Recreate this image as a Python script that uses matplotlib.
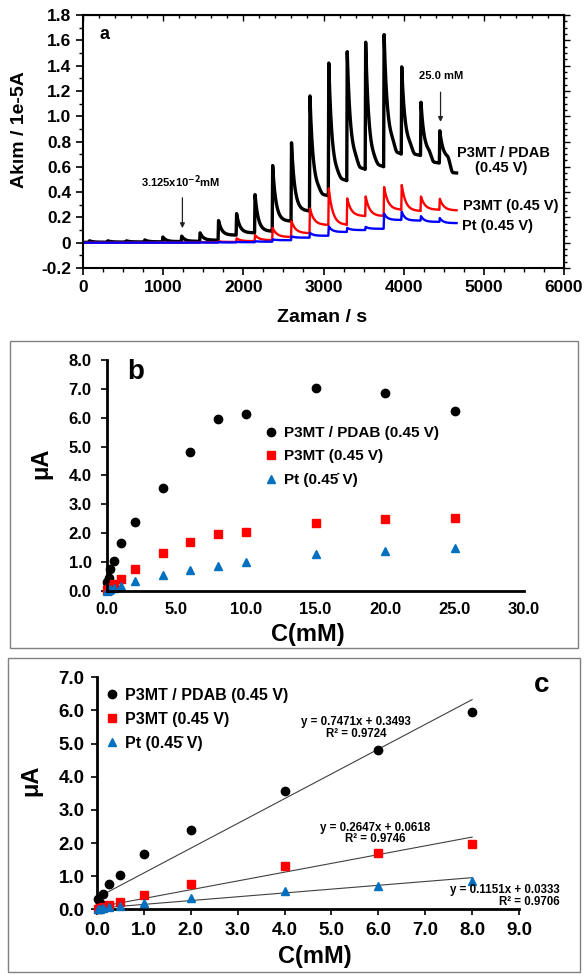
import numpy as np
import matplotlib
matplotlib.use("Agg")
import matplotlib.pyplot as plt
from matplotlib.patches import Rectangle
from matplotlib.ticker import MultipleLocator, FuncFormatter, FormatStrFormatter

plt.rcParams['font.family'] = ['Liberation Sans', 'DejaVu Sans']
plt.rcParams['font.weight'] = 'bold'
plt.rcParams['axes.labelweight'] = 'bold'

# ---------------- amperometric response (panel a) ----------------
add_times = [75, 305, 535, 765, 990, 1225, 1455, 1685, 1910, 2140,
             2360, 2595, 2825, 3060, 3290, 3520, 3750, 3970, 4210, 4445]
t_end = 4660

pdab_peak = [0.015, 0.015, 0.015, 0.022, 0.045, 0.052, 0.078, 0.175, 0.23, 0.38,
             0.61, 0.79, 1.16, 1.42, 1.51, 1.585, 1.645, 1.39, 1.11, 0.885]
pdab_shoulder = [0.004, 0.005, 0.006, 0.007, 0.009, 0.011, 0.02, 0.06, 0.078, 0.09,
                 0.17, 0.25, 0.40, 0.52, 0.64, 0.63, 0.77, 0.75, 0.70, 0.665]
pdab_level = [0.004, 0.005, 0.006, 0.007, 0.009, 0.011, 0.02, 0.06, 0.078, 0.09,
              0.17, 0.25, 0.37, 0.49, 0.58, 0.60, 0.70, 0.69, 0.63, 0.55]

p3mt_peak = [0, 0, 0, 0, 0, 0, 0.005, 0.01, 0.034, 0.06,
             0.117, 0.17, 0.27, 0.43, 0.35, 0.365, 0.44, 0.456, 0.365, 0.347]
p3mt_level = [0, 0, 0, 0, 0, 0, 0.003, 0.006, 0.012, 0.02,
              0.045, 0.075, 0.14, 0.14, 0.21, 0.21, 0.26, 0.25, 0.26, 0.255]

pt_peak = [0, 0, 0, 0, 0, 0, 0.002, 0.004, 0.006, 0.012,
           0.026, 0.05, 0.078, 0.13, 0.117, 0.125, 0.23, 0.245, 0.21, 0.195]
pt_level = [0, 0, 0, 0, 0, 0, 0.001, 0.002, 0.004, 0.008,
            0.02, 0.04, 0.055, 0.085, 0.10, 0.11, 0.18, 0.175, 0.165, 0.155]

# ---------------- calibration data (panels b, c) ----------------
conc = [0.03125, 0.0625, 0.125, 0.25, 0.5, 1, 2, 4, 6, 8, 10, 15, 20, 25]
pdab_current = [0.30, 0.20, 0.46, 0.77, 1.03, 1.66, 2.38, 3.56, 4.81, 5.95,
                6.12, 7.02, 6.85, 6.22]
p3mt_current = [0.02, 0.05, 0.08, 0.13, 0.23, 0.42, 0.77, 1.32, 1.69, 1.96,
                2.05, 2.34, 2.50, 2.53]
pt_current = [0.005, 0.02, 0.04, 0.07, 0.11, 0.19, 0.35, 0.56, 0.71, 0.85,
              0.99, 1.27, 1.39, 1.48]

fit_slopes = [0.7471, 0.2647, 0.1151]
fit_intercepts = [0.3493, 0.0618, 0.0333]
fit_r2 = [0.9724, 0.9746, 0.9706]
linear_max = 8

names = ['P3MT / PDAB (0.45 V)', 'P3MT (0.45 V)', 'Pt (0.45\u0307 V)']
colors = ['black', '#ff0000', '#0070c0']
markers = ['o', 's', '^']
msizes = [6, 5.5, 5.5]

W, H = 585, 974


def fx(px):
    return px / W


def fy(py):
    return 1 - py / H


def build_trace(t, times, peaks, levels, shoulders, tau, base=0.0):
    y = np.full_like(t, base, dtype=float)
    prev = base
    for i, t0 in enumerate(times):
        t1 = times[i + 1] if i + 1 < len(times) else t[-1] + 1
        m = (t >= t0) & (t < t1)
        dt = t[m] - t0
        sh = shoulders[i]
        lv = levels[i]
        s = np.clip((dt - 100) / 70.0, 0, 1)
        s = s * s * (3 - 2 * s)
        target = sh + (lv - sh) * s
        seg = target + (peaks[i] - sh) * np.exp(-np.clip(dt - 6, 0, None) / tau)
        rise = dt < 6
        seg[rise] = prev + (peaks[i] - prev) * dt[rise] / 6.0
        y[m] = seg
        prev = lv
    return y


fig = plt.figure(figsize=(W / 100, H / 100), dpi=100)

# ================= panel a =================
axa = fig.add_axes([fx(83), fy(268), fx(564) - fx(83), fy(15) - fy(268)])
t = np.arange(0, t_end + 1, 1.0)
y_pdab = build_trace(t, add_times, pdab_peak, pdab_level, pdab_shoulder, 40, base=0.003)
y_p3mt = build_trace(t, add_times, p3mt_peak, p3mt_level, p3mt_level, 50)
y_pt = build_trace(t, add_times, pt_peak, pt_level, pt_level, 40)
axa.plot(t, y_pdab, color='black', lw=2.4)
axa.plot(t, y_p3mt, color='#ff0000', lw=1.7)
axa.plot(t, y_pt, color='#0000ff', lw=1.7)

axa.set_xlim(0, 6000)
axa.set_ylim(-0.2, 1.8)
axa.xaxis.set_major_locator(MultipleLocator(1000))
axa.xaxis.set_minor_locator(MultipleLocator(250))
axa.yaxis.set_major_locator(MultipleLocator(0.2))
axa.yaxis.set_minor_locator(MultipleLocator(0.1))
axa.yaxis.set_major_formatter(FuncFormatter(lambda v, p: '0' if abs(v) < 1e-9 else f'{v:.1f}'))
axa.tick_params(which='major', direction='out', length=5, width=1.2, labelsize=12.5)
axa.tick_params(which='minor', direction='out', length=3, width=1.0)
for sp in axa.spines.values():
    sp.set_linewidth(1.5)
top = axa.secondary_xaxis('top')
top.xaxis.set_major_locator(MultipleLocator(1000))
top.xaxis.set_minor_locator(MultipleLocator(200))
top.tick_params(which='both', direction='in', labeltop=False, length=4, width=1.0)
top.tick_params(which='minor', length=2.5)
right = axa.secondary_yaxis('right')
right.yaxis.set_major_locator(MultipleLocator(0.2))
right.yaxis.set_minor_locator(MultipleLocator(0.05))
right.tick_params(which='both', direction='out', labelright=False, length=4, width=1.0)
right.tick_params(which='minor', length=2.5)

axa.text(268, 1.643, 'a', fontsize=13, fontweight='bold', ha='center', va='center')
axa.text(1222, 0.485, '3.125x10$^{\\mathbf{-2}}$mM', fontsize=8, fontweight='bold',
         ha='center', va='center')
axa.annotate('', xy=(1240, 0.115), xytext=(1240, 0.355),
             arrowprops=dict(arrowstyle='-|>', color='#222222', lw=0.9,
                             mutation_scale=7, shrinkA=0, shrinkB=0))
axa.text(4464, 1.315, '25.0 mM', fontsize=8, fontweight='bold', ha='center', va='center')
axa.annotate('', xy=(4460, 0.955), xytext=(4460, 1.19),
             arrowprops=dict(arrowstyle='-|>', color='#222222', lw=0.9,
                             mutation_scale=7, shrinkA=0, shrinkB=0))
axa.text(5249, 0.712, 'P3MT / PDAB', fontsize=10.5, fontweight='bold', ha='center', va='center')
axa.text(5212, 0.587, '(0.45 V)', fontsize=10.5, fontweight='bold', ha='center', va='center')
axa.text(5337, 0.29, 'P3MT (0.45 V)', fontsize=10.5, fontweight='bold', ha='center', va='center')
axa.text(5175, 0.133, 'Pt (0.45 V)', fontsize=10.5, fontweight='bold', ha='center', va='center')

fig.text(fx(20), fy(130), 'Akım / 1e-5A', rotation=90, fontsize=14, fontweight='bold',
         ha='center', va='center')
fig.text(fx(322), fy(317), 'Zaman / s', fontsize=14, fontweight='bold', ha='center', va='center')

# ================= panel b =================
fig.patches.append(Rectangle((fx(10), fy(648)), fx(578) - fx(10), fy(341) - fy(648),
                             transform=fig.transFigure, fill=False, ec='#808080', lw=1.0))
axb = fig.add_axes([fx(107), fy(591), fx(524) - fx(107), fy(360) - fy(591)])
series = [pdab_current, p3mt_current, pt_current]
for vals, name, c, mk, ms in zip(series, names, colors, markers, msizes):
    axb.plot(conc, vals, linestyle='none', marker=mk, color=c, ms=ms, mec=c,
             label=name, clip_on=False)
axb.set_xlim(0, 30)
axb.set_ylim(0, 8)
axb.xaxis.set_major_locator(MultipleLocator(5))
axb.yaxis.set_major_locator(MultipleLocator(1))
axb.xaxis.set_major_formatter(FormatStrFormatter('%.1f'))
axb.yaxis.set_major_formatter(FormatStrFormatter('%.1f'))
for s in ['top', 'right']:
    axb.spines[s].set_visible(False)
for s in ['left', 'bottom']:
    axb.spines[s].set_linewidth(2.0)
axb.tick_params(axis='y', direction='out', length=4, width=1.2, labelsize=12, pad=7)
axb.tick_params(axis='x', direction='out', length=0, width=1.2, labelsize=12, pad=8)
axb.text(fx(136), fy(372), 'b', transform=fig.transFigure, fontsize=20,
         fontweight='bold', ha='center', va='center')
axb.legend(loc='upper left', bbox_to_anchor=(fx(263), fy(426)), bbox_transform=fig.transFigure,
           frameon=False, fontsize=11, handlelength=1.0, handletextpad=0.35,
           labelspacing=0.62, borderpad=0, borderaxespad=0, numpoints=1)
fig.text(fx(41), fy(463), 'μA', rotation=90, fontsize=17, fontweight='bold',
         ha='center', va='center')
fig.text(fx(308), fy(635), 'C(mM)', fontsize=17, fontweight='bold', ha='center', va='center')

# ================= panel c =================
fig.patches.append(Rectangle((fx(8), fy(972)), fx(580) - fx(8), fy(658) - fy(972),
                             transform=fig.transFigure, fill=False, ec='#808080', lw=1.0))
axc = fig.add_axes([fx(97), fy(909.3), fx(519) - fx(97), fy(677.3) - fy(909.3)])
lin_idx = [i for i, c in enumerate(conc) if c <= linear_max]
xs = [conc[i] for i in lin_idx]
for vals, name, c, mk, ms in zip(series, names, colors, markers, msizes):
    axc.plot(xs, [vals[i] for i in lin_idx], linestyle='none', marker=mk, color=c, ms=ms,
             mec=c, label=name, clip_on=False, zorder=3)
xfit = np.array([xs[0], xs[-1]])
for k in range(3):
    axc.plot(xfit, fit_slopes[k] * xfit + fit_intercepts[k], color='#404040', lw=0.8, zorder=2)
axc.set_xlim(0, 9)
axc.set_ylim(0, 7)
axc.xaxis.set_major_locator(MultipleLocator(1))
axc.yaxis.set_major_locator(MultipleLocator(1))
axc.xaxis.set_major_formatter(FormatStrFormatter('%.1f'))
axc.yaxis.set_major_formatter(FormatStrFormatter('%.1f'))
for s in ['top', 'right']:
    axc.spines[s].set_visible(False)
for s in ['left', 'bottom']:
    axc.spines[s].set_linewidth(2.0)
axc.tick_params(direction='out', length=4, width=1.2, labelsize=13.5, pad=5)

eq_pos = [((356, 722), (356.5, 734), 'center'),
          ((375, 827.5), (375, 839.5), 'center'),
          ((505, 890), (560, 902), 'right')]
for k in range(3):
    (ex, ey), (rx, ry), ha_r = eq_pos[k]
    fig.text(fx(ex), fy(ey), f'y = {fit_slopes[k]:.4f}x + {fit_intercepts[k]:.4f}',
             fontsize=8.3, fontweight='bold', ha='center', va='center')
    fig.text(fx(rx), fy(ry), f'R² = {fit_r2[k]:.4f}', fontsize=8.3, fontweight='bold',
             ha=ha_r, va='center')

axc.text(fx(542), fy(685), 'c', transform=fig.transFigure, fontsize=20,
         fontweight='bold', ha='center', va='center')
axc.legend(loc='upper left', bbox_to_anchor=(fx(104.5), fy(688)), bbox_transform=fig.transFigure,
           frameon=False, fontsize=11.5, handlelength=1.0, handletextpad=0.3,
           labelspacing=0.55, borderpad=0, borderaxespad=0, numpoints=1)
fig.text(fx(31), fy(780), 'μA', rotation=90, fontsize=17, fontweight='bold',
         ha='center', va='center')
fig.text(fx(315), fy(956), 'C(mM)', fontsize=17, fontweight='bold', ha='center', va='center')

fig.savefig('out.png', dpi=100)
